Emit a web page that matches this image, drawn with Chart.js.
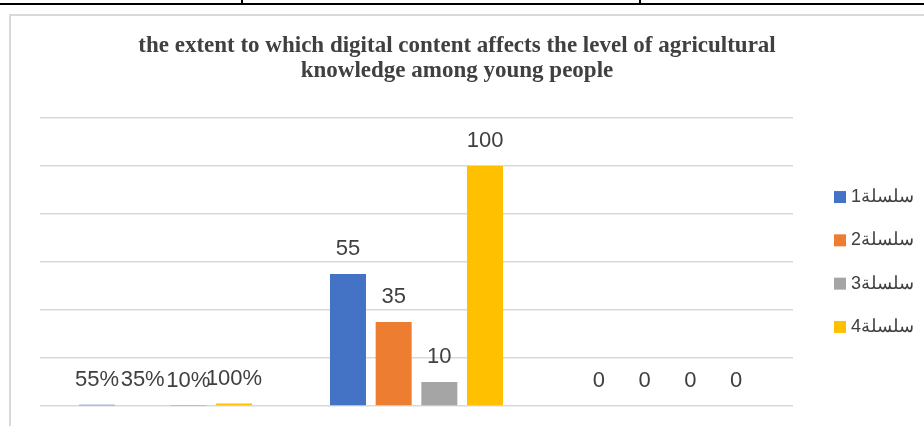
<!DOCTYPE html>
<html>
<head>
<meta charset="utf-8">
<script src="https://cdn.jsdelivr.net/npm/chart.js@4.4.1/dist/chart.umd.min.js"></script>
<style>
  html, body { margin: 0; padding: 0; background: #fff; }
  body { width: 924px; height: 426px; position: relative; overflow: hidden; }
  .rule { position: absolute; background: #000; }
  .frame { position: absolute; left: 9px; top: 14px; width: 940px; height: 440px;
           border-left: 2px solid #d9d9d9; border-top: 2px solid #d9d9d9; }
  #wrap { position: absolute; left: 0; top: 0; width: 924px; height: 426px; }
</style>
</head>
<body>
<div class="rule" style="left:0;top:3px;width:924px;height:2px"></div>
<div class="rule" style="left:241px;top:0;width:2px;height:4px"></div>
<div class="rule" style="left:639px;top:0;width:2px;height:4px"></div>
<div class="frame"></div>
<div id="wrap"><canvas id="chart"></canvas></div>
<script>
const categories = ['1', '2', '3'];
const seriesNames = ['سلسلة1', 'سلسلة2', 'سلسلة3', 'سلسلة4'];
const series1 = [0.55, 55, 0];
const series2 = [0.35, 35, 0];
const series3 = [0.10, 10, 0];
const series4 = [1.00, 100, 0];
// the first group is shown as percentages, the others as plain numbers
const labelFormats = ['percent', 'number', 'number'];
const colors = ['#4472C4', '#ED7D31', '#A5A5A5', '#FFC000'];

const TEXT = '#404040';

function fmt(v, i) {
  if (labelFormats[i] === 'percent') return Math.round(v * 100) + '%';
  return String(v);
}

const valueLabels = {
  id: 'valueLabels',
  afterDatasetsDraw(chart) {
    const {ctx} = chart;
    ctx.save();
    ctx.font = '22px "Liberation Sans", Arial, sans-serif';
    ctx.fillStyle = TEXT;
    ctx.textAlign = 'center';
    ctx.textBaseline = 'middle';
    chart.data.datasets.forEach((ds, d) => {
      const meta = chart.getDatasetMeta(d);
      meta.data.forEach((bar, i) => {
        ctx.fillText(fmt(ds.data[i], i), bar.x, bar.y - 25);
      });
    });
    ctx.restore();
  }
};

const sideLegend = {
  id: 'sideLegend',
  afterDraw(chart) {
    const {ctx, chartArea} = chart;
    const x = chartArea.right + 41;
    const mid = (chartArea.top + chartArea.bottom) / 2;
    const step = 43.3;
    const n = chart.data.datasets.length;
    ctx.save();
    ctx.font = '18px "Liberation Sans", Arial, sans-serif';
    ctx.textBaseline = 'middle';
    ctx.textAlign = 'left';
    chart.data.datasets.forEach((ds, d) => {
      const y = mid + (d - (n - 1) / 2) * step;
      ctx.fillStyle = ds.backgroundColor;
      ctx.fillRect(x, y - 6, 12, 12);
      ctx.fillStyle = TEXT;
      ctx.fillText(ds.label, x + 17, y);
    });
    ctx.restore();
  }
};

const values = [series1, series2, series3, series4];

new Chart(document.getElementById('chart'), {
  type: 'bar',
  data: {
    labels: categories,
    datasets: values.map((data, i) => ({
      label: seriesNames[i],
      data,
      backgroundColor: colors[i],
      borderWidth: 0,
      categoryPercentage: 0.728,
      barPercentage: 0.788,
    })),
  },
  options: {
    responsive: true,
    maintainAspectRatio: false,
    animation: false,
    layout: {padding: {left: 0, right: 10, top: 34, bottom: 12}},
    plugins: {
      legend: {display: false},
      tooltip: {enabled: false},
      title: {
        display: true,
        text: ['the extent to which digital content affects the level of agricultural',
               'knowledge among young people'],
        color: TEXT,
        font: {family: '"Liberation Serif", serif', size: 23, weight: 'bold', lineHeight: 1.087},
        padding: {top: 0, bottom: 34},
      },
    },
    scales: {
      x: {
        grid: {display: false},
        border: {display: false},
        ticks: {display: false},
      },
      y: {
        min: 0,
        max: 120,
        ticks: {display: false, stepSize: 20},
        grid: {color: '#d9d9d9', lineWidth: 1.5, drawTicks: false},
        border: {display: false},
        afterFit(scale) { scale.width = 40; },
      },
      yRight: {
        position: 'right',
        ticks: {display: false},
        grid: {display: false},
        border: {display: false},
        afterFit(scale) { scale.width = 121; },
      },
    },
  },
  plugins: [valueLabels, sideLegend],
});
</script>
</body>
</html>
